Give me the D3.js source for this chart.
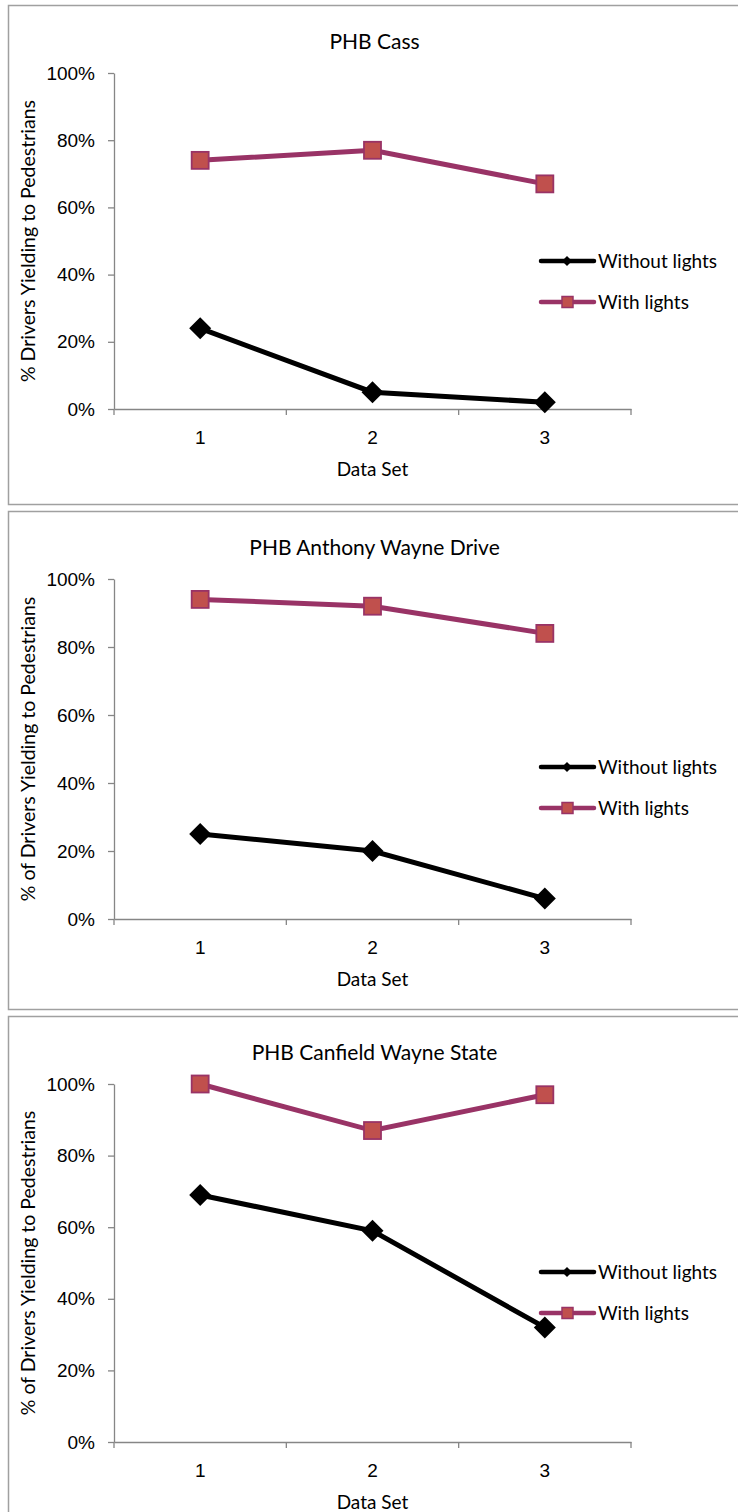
<!DOCTYPE html>
<html>
<head>
<meta charset="utf-8">
<script src="https://cdn.jsdelivr.net/npm/d3@7"></script>
<style>
  body { margin: 0; background: #fff; }
  svg { display: block; font-family: Lato, "Open Sans", sans-serif; }
  .axis path, .axis line { stroke: #868686; stroke-width: 1.3; }
  .axis text { font-size: 19px; fill: #000; }
</style>
</head>
<body>
<div id="chart"></div>
<script>
// data
var titles = ["PHB Cass", "PHB Anthony Wayne Drive", "PHB Canfield Wayne State"];
var yLabels = ["% Drivers Yielding to Pedestrians",
               "% of Drivers Yielding to Pedestrians",
               "% of Drivers Yielding to Pedestrians"];
var dataSets = ["1", "2", "3"];
var withoutLights = [[24, 5, 2], [25, 20, 6], [69, 59, 32]];
var withLights = [[74, 77, 67], [94, 92, 84], [100, 87, 97]];
var yTicks = [0, 20, 40, 60, 80, 100];
var seriesNames = ["Without lights", "With lights"];

// panel frames (top/bottom of box, top/bottom of plot area)
var panels = [
  {box: [5, 504],    plot: [73, 409]},
  {box: [511, 1009], plot: [579, 919]},
  {box: [1016, 1530], plot: [1084, 1442]}
];

var width = 738, height = 1512;
var plotLeft = 114, plotRight = 631;

var svg = d3.select("#chart").append("svg")
    .attr("width", width)
    .attr("height", height);

var x = d3.scaleBand().domain(dataSets).range([plotLeft, plotRight]);

var blackColor = "#000000";
var lineColor = "#993366";
var fillColor = "#c0504d";

panels.forEach(function(p, i) {
  var g = svg.append("g");

  g.append("rect")
    .attr("x", 8.5)
    .attr("y", p.box[0] + 0.5)
    .attr("width", 740)
    .attr("height", p.box[1] - p.box[0])
    .attr("fill", "#fff")
    .attr("stroke", "#a0a0a0")
    .attr("stroke-width", 1.5);

  var y = d3.scaleLinear().domain([0, 100]).range([p.plot[1], p.plot[0]]);

  g.append("text")
    .attr("x", (plotLeft + plotRight) / 2 + 2)
    .attr("y", p.plot[0] - 24)
    .attr("text-anchor", "middle")
    .style("font-size", "21px")
    .text(titles[i]);

  g.append("g")
    .attr("class", "axis")
    .attr("transform", "translate(" + plotLeft + ",0)")
    .call(d3.axisLeft(y).tickValues(yTicks).tickSize(6).tickSizeOuter(0)
      .tickFormat(function(d) { return d + "%"; }))
    .call(function(a) { a.selectAll("text").attr("x", -19); });

  var xAxis = g.append("g")
    .attr("class", "axis")
    .attr("transform", "translate(0," + p.plot[1] + ")")
    .call(d3.axisBottom(x).tickSize(0).tickSizeOuter(0).tickPadding(22));

  // excel style tick marks on the band edges
  xAxis.selectAll(".edge")
    .data(d3.range(dataSets.length + 1))
    .enter().append("line")
      .attr("class", "edge")
      .attr("x1", function(d) { return plotLeft + d * x.bandwidth(); })
      .attr("x2", function(d) { return plotLeft + d * x.bandwidth(); })
      .attr("y1", 0)
      .attr("y2", 6);

  g.append("text")
    .attr("x", (plotLeft + plotRight) / 2)
    .attr("y", p.plot[1] + 67)
    .attr("text-anchor", "middle")
    .style("font-size", "19px")
    .text("Data Set");

  g.append("text")
    .attr("transform", "translate(35," + (p.plot[0] + p.plot[1]) / 2 + ") rotate(-90)")
    .attr("text-anchor", "middle")
    .style("font-size", "19.5px")
    .text(yLabels[i]);

  var cx = function(d, j) { return x(dataSets[j]) + x.bandwidth() / 2; };
  var line = d3.line().x(cx).y(function(d) { return y(d); });

  g.append("path")
    .datum(withLights[i])
    .attr("fill", "none")
    .attr("stroke", lineColor)
    .attr("stroke-width", 5)
    .attr("d", line);

  g.selectAll(".sq")
    .data(withLights[i])
    .enter().append("rect")
      .attr("class", "sq")
      .attr("x", function(d, j) { return cx(d, j) - 8.5; })
      .attr("y", function(d) { return y(d) - 8.5; })
      .attr("width", 17)
      .attr("height", 17)
      .attr("fill", fillColor)
      .attr("stroke", lineColor)
      .attr("stroke-width", 1.8);

  g.append("path")
    .datum(withoutLights[i])
    .attr("fill", "none")
    .attr("stroke", blackColor)
    .attr("stroke-width", 5)
    .attr("d", line);

  g.selectAll(".dia")
    .data(withoutLights[i])
    .enter().append("path")
      .attr("class", "dia")
      .attr("transform", function(d, j) { return "translate(" + cx(d, j) + "," + y(d) + ")"; })
      .attr("d", "M0,-11L11,0L0,11L-11,0Z")
      .attr("fill", blackColor);

  // legend, placed right of the plot
  var legY = [p.plot[0] + 188, p.plot[0] + 229];

  var leg = g.append("g");
  leg.append("line")
    .attr("x1", 541).attr("x2", 594)
    .attr("y1", legY[0]).attr("y2", legY[0])
    .attr("stroke", blackColor).attr("stroke-width", 4.5)
    .attr("stroke-linecap", "round");
  leg.append("path")
    .attr("transform", "translate(567," + legY[0] + ")")
    .attr("d", "M0,-5L5,0L0,5L-5,0Z")
    .attr("fill", blackColor);
  leg.append("line")
    .attr("x1", 541).attr("x2", 594)
    .attr("y1", legY[1]).attr("y2", legY[1])
    .attr("stroke", lineColor).attr("stroke-width", 4.5)
    .attr("stroke-linecap", "round");
  leg.append("rect")
    .attr("x", 562).attr("y", legY[1] - 5.5)
    .attr("width", 11).attr("height", 11)
    .attr("fill", fillColor)
    .attr("stroke", lineColor).attr("stroke-width", 1.5);

  leg.selectAll(".lt")
    .data(seriesNames)
    .enter().append("text")
      .attr("class", "lt")
      .attr("x", 598)
      .attr("y", function(d, k) { return legY[k]; })
      .attr("dy", "0.35em")
      .style("font-size", "19px")
      .text(function(d) { return d; });
});
</script>
</body>
</html>
